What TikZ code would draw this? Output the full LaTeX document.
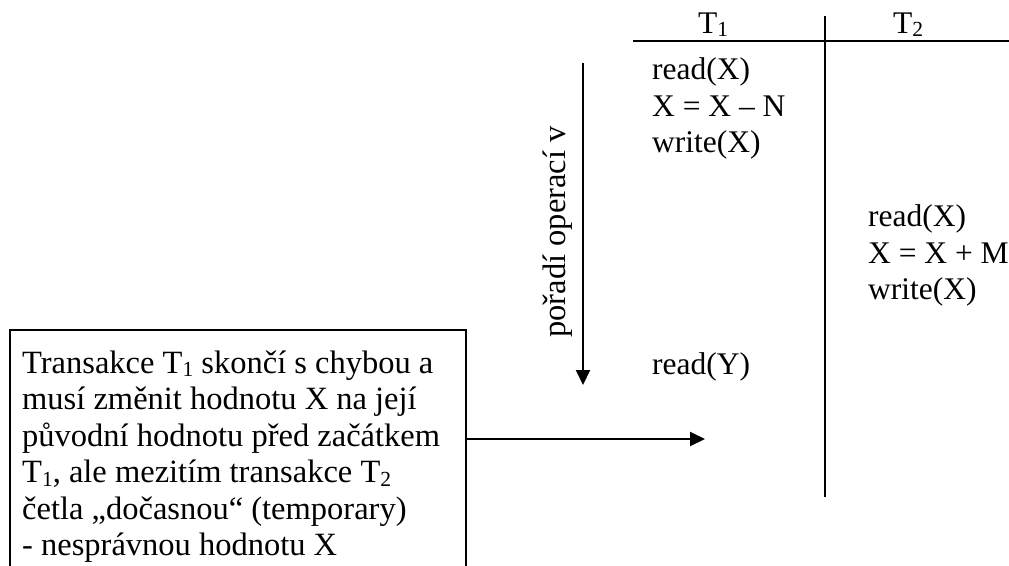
\documentclass[tikz,border=0pt]{standalone}
\usepackage{fontspec}
\setmainfont{Liberation Serif}
\usetikzlibrary{arrows.meta}
\newcommand{\mysub}[1]{\raisebox{-0.12em}{\fontsize{21.5}{21.5}\selectfont #1}}
\begin{document}
\begin{tikzpicture}[x=1pt,y=-1pt,
  txt/.style={inner sep=0pt,font=\fontsize{31.5}{36.5}\selectfont},
  bigtxt/.style={inner sep=0pt,font=\fontsize{32.5}{36.5}\selectfont},
  opline/.style={txt,anchor=base west},
  rule/.style={line width=2pt},
  arr/.style={line width=2pt,-{Triangle[length=15pt,width=14pt]}}]
\useasboundingbox (0,0) rectangle (1009,565);
% table header
\node[txt,anchor=base] (t1) at (713,33) {T\mysub{1}};
\node[txt,anchor=base] (t2) at (908,33) {T\mysub{2}};
\coordinate (hl) at (633,40.5);
\coordinate (hr) at (1009,40.5);
\coordinate (vt) at (825,16);
\coordinate (vb) at (825,497);
\draw[rule] (hl) -- (hr);
\draw[rule] (vt) -- (vb);
% T1 operations
\node[opline] (a1) at (652,79) {read(X)};
\node[opline] (a2) at (652,116) {X = X – N};
\node[opline] (a3) at (652,152) {write(X)};
% T2 operations
\node[opline] (b1) at (868,226) {read(X)};
\node[opline] (b2) at (868,263) {X = X + M};
\node[opline] (b3) at (868,299) {write(X)};
% read(Y)
\node[opline] (a4) at (652,374) {read(Y)};
% order arrow
\coordinate (ot) at (583,63);
\coordinate (ob) at (583,385);
\draw[arr] (ot) -- (ob);
\node[bigtxt,rotate=90] (ord) at (558,232) {pořadí operací v};
% comment box
\node[draw,line width=1.5pt,anchor=north west,minimum width=456,minimum height=250,inner sep=0pt] (box) at (9,329) {};
\node[bigtxt,anchor=base west,align=left] (boxtxt) at (22,555.5) {Transakce T\mysub{1} skončí s chybou a\\
musí změnit hodnotu X na její\\
původní hodnotu před začátkem\\
T\mysub{1}, ale mezitím transakce T\mysub{2}\\
četla „dočasnou“ (temporary)\\
- nesprávnou hodnotu X};
\coordinate (tip) at (705,439);
\draw[arr] (box.east |- tip) -- (tip);
\end{tikzpicture}
\end{document}
